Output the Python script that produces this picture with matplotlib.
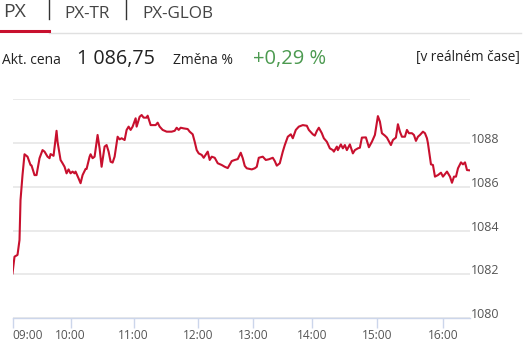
import matplotlib
matplotlib.use("Agg")
import matplotlib.pyplot as plt
from matplotlib.transforms import ScaledTranslation

# position along the chart's time axis (one unit per chart step) and index value
t = [0, 2, 5, 7, 8, 10, 12, 15, 18, 19, 22, 24, 27, 30, 32, 35, 37, 38, 41, 44,
     45, 48, 50, 52, 54, 56, 58, 60, 62, 63, 66, 68, 70, 73, 74, 77, 78, 80, 82, 85,
     87, 89, 92, 94, 96, 98, 100, 102, 105, 107, 109, 112, 114, 116, 118, 120, 123, 124, 127, 129,
     131, 134, 135, 138, 140, 143, 145, 147, 150, 154, 159, 162, 164, 166, 168, 171, 175, 177, 180, 182,
     184, 186, 189, 191, 195, 197, 199, 202, 205, 209, 212, 215, 219, 222, 225, 228, 230, 232, 234, 239,
     242, 244, 246, 250, 253, 256, 260, 262, 264, 267, 270, 272, 275, 278, 280, 283, 286, 290, 294, 296,
     300, 302, 304, 306, 309, 311, 314, 317, 320, 321, 324, 325, 328, 330, 332, 334, 337, 340, 342, 345,
     347, 349, 353, 356, 359, 362, 365, 367, 369, 372, 374, 378, 380, 383, 385, 387, 389, 392, 394, 396,
     399, 401, 403, 405, 407, 410, 412, 414, 415, 418, 420, 422, 425, 428, 430, 434, 437, 439, 441, 443,
     445, 448, 450, 452, 454, 456]
px = [1082.05, 1082.81, 1082.89, 1083.57, 1085.39, 1086.53, 1087.48, 1087.37, 1086.99, 1086.97,
      1086.53, 1086.53, 1087.30, 1087.67, 1087.60, 1087.37, 1087.30, 1087.49, 1087.41, 1088.55,
      1088.05, 1087.22, 1087.07, 1086.91, 1086.61, 1086.79, 1086.61, 1086.69, 1086.61, 1086.69,
      1086.38, 1086.16, 1086.53, 1086.81, 1086.81, 1087.37, 1087.48, 1087.30, 1087.37, 1088.36,
      1087.75, 1086.91, 1087.83, 1087.90, 1087.60, 1087.14, 1087.10, 1087.37, 1088.28, 1088.16,
      1088.21, 1088.13, 1088.59, 1088.74, 1088.59, 1088.74, 1089.12, 1088.74, 1089.19, 1089.27,
      1089.15, 1089.15, 1089.24, 1088.81, 1088.81, 1088.81, 1088.92, 1088.74, 1088.59, 1088.51,
      1088.51, 1088.55, 1088.69, 1088.59, 1088.69, 1088.66, 1088.63, 1088.51, 1088.39, 1088.05,
      1087.67, 1087.52, 1087.45, 1087.32, 1087.60, 1087.22, 1087.37, 1087.32, 1087.07, 1086.99,
      1086.91, 1086.85, 1087.17, 1087.22, 1087.26, 1087.55, 1087.30, 1086.95, 1086.84, 1086.79,
      1086.84, 1086.91, 1087.32, 1087.37, 1087.22, 1087.25, 1087.32, 1087.17, 1086.96, 1087.07,
      1087.60, 1087.90, 1088.28, 1088.39, 1088.21, 1088.59, 1088.74, 1088.81, 1088.78, 1088.59,
      1088.39, 1088.33, 1088.54, 1088.69, 1088.44, 1088.21, 1088.05, 1087.75, 1087.67, 1087.60,
      1087.83, 1087.67, 1087.93, 1087.75, 1087.90, 1087.67, 1087.93, 1087.52, 1087.67, 1087.75,
      1087.78, 1088.24, 1088.25, 1087.80, 1088.05, 1088.36, 1089.22, 1088.97, 1088.44, 1088.33,
      1088.24, 1087.90, 1088.13, 1088.24, 1088.85, 1088.51, 1088.28, 1088.28, 1088.59, 1088.44,
      1088.44, 1088.36, 1088.09, 1088.28, 1088.36, 1088.51, 1088.44, 1088.21, 1087.98, 1087.02,
      1086.99, 1086.46, 1086.53, 1086.64, 1086.46, 1086.69, 1086.46, 1086.18, 1086.46, 1086.46,
      1086.84, 1087.11, 1087.02, 1087.11, 1086.76, 1086.75]

hour_pos = [0, 58, 121, 185, 240, 299, 364, 430]
hour_labels = ["09:00", "10:00", "11:00", "12:00", "13:00", "14:00", "15:00", "16:00"]
y_ticks = [1080, 1082, 1084, 1086, 1088, 1090]
y_labels = ["1080", "1082", "1084", "1086", "1088", ""]

tabs = ["PX", "PX-TR", "PX-GLOB"]
last_price = "1 086,75"
change = "+0,29 %"

W, H = 526, 341
plt.rcParams['font.family'] = ['Open Sans', 'DejaVu Sans']
fig = plt.figure(figsize=(W / 100, H / 100), dpi=100)

def fx(x):
    return x / W

def fy(y):
    return 1 - y / H

# header tabs
fig.text(fx(3), fy(12), tabs[0], fontsize=14, color="#444444", va="center", ha="left")
fig.text(fx(64), fy(13.5), tabs[1], fontsize=12.3, color="#444444", va="center", ha="left")
fig.text(fx(142), fy(13.5), tabs[2], fontsize=12.3, color="#444444", va="center", ha="left")
fig.add_artist(plt.Line2D([fx(49), fx(49)], [fy(0), fy(19)], color="#333333", lw=1))
fig.add_artist(plt.Line2D([fx(125.5), fx(125.5)], [fy(0), fy(19)], color="#333333", lw=1))
fig.add_artist(plt.Line2D([fx(49), fx(521)], [fy(32.5), fy(32.5)], color="#e0e0e0", lw=1))
fig.add_artist(plt.Line2D([fx(1), fx(49)], [fy(30.5), fy(30.5)], color="#c8102e", lw=2.2))

# price row
fig.text(fx(2), fy(60), "Akt. cena", fontsize=10, color="#222222", va="center", ha="left")
fig.text(fx(77), fy(59), last_price, fontsize=14.2, color="#222222", va="center", ha="left")
fig.text(fx(173), fy(60), "Změna %", fontsize=10, color="#222222", va="center", ha="left")
fig.text(fx(253), fy(59), change, fontsize=14.5, color="#4c9a50", va="center", ha="left")
fig.text(fx(520), fy(58), "[v reálném čase]", fontsize=9.8, color="#222222", va="center", ha="right")

# chart
ax = fig.add_axes([fx(12.5), fy(318.3), fx(457.5), (318.3 - 99) / H])
ax.plot(t, px, color="#c8102e", lw=1.5, solid_joinstyle="round")
ax.set_xlim(0, 457)
ax.set_ylim(1080, 1090)
for s in ["top", "left", "right"]:
    ax.spines[s].set_visible(False)
ax.spines["bottom"].set_color("#ccd6eb")
ax.spines["bottom"].set_linewidth(1)
ax.set_yticks(y_ticks)
ax.set_yticklabels(y_labels)
ax.yaxis.tick_right()
ax.grid(axis="y", color="#e6e6e6", lw=1.2)
ax.set_axisbelow(True)
ax.tick_params(axis="y", length=0, pad=0.5, labelsize=9, labelcolor="#555555")
ax.set_xticks(hour_pos)
ax.set_xticklabels(hour_labels)
ax.tick_params(axis="x", direction="out", length=7, width=1, color="#ccd6eb",
               pad=0.5, labelsize=8.6, labelcolor="#555555")
xl = ax.get_xticklabels()
xl[0].set_horizontalalignment("left")
for lab in ax.get_yticklabels():
    lab.set_transform(lab.get_transform() + ScaledTranslation(0, 5 / 100, fig.dpi_scale_trans))

fig.savefig("out.png", dpi=100)
